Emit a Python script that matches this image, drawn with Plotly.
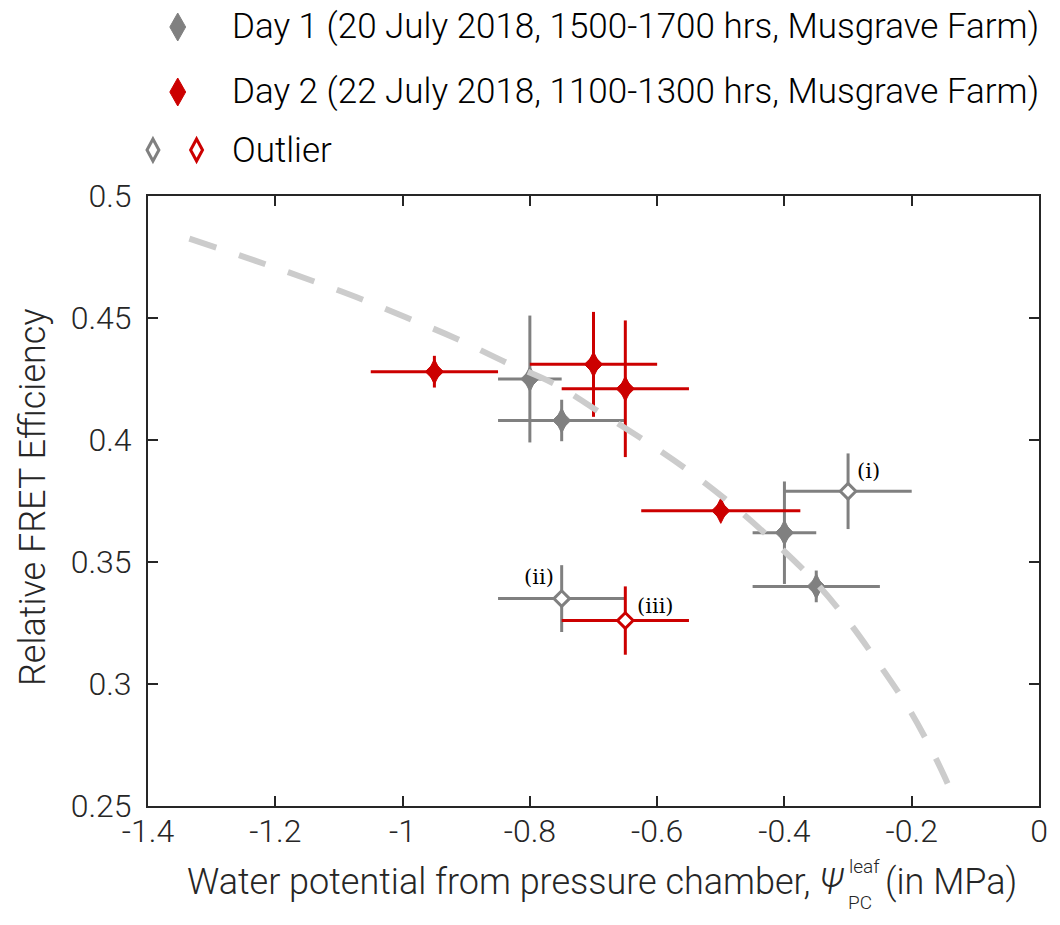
import plotly.graph_objects as go

# ---- data -------------------------------------------------------------
# Day 1: 20 July 2018, 1500-1700 hrs
day1_x = [-0.80, -0.75, -0.40, -0.35]
day1_y = [0.425, 0.408, 0.362, 0.340]
day1_xerr = [0.05, 0.10, 0.05, 0.10]
day1_yerr = [0.026, 0.0085, 0.021, 0.0065]

# Day 2: 22 July 2018, 1100-1300 hrs
day2_x = [-0.95, -0.70, -0.65, -0.50]
day2_y = [0.428, 0.431, 0.421, 0.371]
day2_xerr = [0.10, 0.10, 0.10, 0.125]
day2_yerr = [0.0065, 0.0215, 0.028, 0.004]

# Outliers
out1_x = [-0.30, -0.75]
out1_y = [0.379, 0.335]
out1_xerr = [0.10, 0.10]
out1_yerr = [0.0155, 0.0137]
out1_labels = ["(i)", "(ii)"]

out2_x = [-0.65]
out2_y = [0.326]
out2_xerr = [0.10]
out2_yerr = [0.014]
out2_labels = ["(iii)"]

# Trend curve
fit_x = [-1.335, -1.234, -1.153, -1.073, -0.994, -0.916, -0.839, -0.762,
         -0.689, -0.617, -0.546, -0.479, -0.415, -0.353, -0.299, -0.249,
         -0.202, -0.161, -0.132]
fit_y = [0.4825, 0.4737, 0.4663, 0.4586, 0.4502, 0.4416, 0.4320, 0.4231,
         0.4112, 0.3993, 0.3865, 0.3728, 0.3580, 0.3422, 0.3255, 0.3073,
         0.2888, 0.2689, 0.2525]

x_ticks = [-1.4, -1.2, -1.0, -0.8, -0.6, -0.4, -0.2, 0.0]
x_tick_text = ["-1.4", "-1.2", "-1", "-0.8", "-0.6", "-0.4", "-0.2", "0"]
y_ticks = [0.25, 0.30, 0.35, 0.40, 0.45, 0.50]
y_tick_text = ["0.25", "0.3", "0.35", "0.4", "0.45", "0.5"]

legend_labels = [
    "Day 1 (20 July 2018, 1500-1700 hrs, Musgrave Farm)",
    "Day 2 (22 July 2018, 1100-1300 hrs, Musgrave Farm)",
    "Outlier",
]

# ---- styling ----------------------------------------------------------
GRAY = "#808080"
RED = "#cc0000"
FIT = "#cccccc"
AXIS = "#262626"
FONT = "Roboto"

W, H = 1060, 925
ML, MR, MT, MB = 148, 13, 196, 119
PW, PH = W - ML - MR, H - MT - MB


def px(x):
    return (x - ML) / PW


def py(y):
    return (H - MB - y) / PH


def err(vals, color):
    return dict(type="data", array=vals, visible=True, color=color,
                thickness=3, width=0)


def diamond_path(cx, cy, hw, hh):
    pts = [(cx, cy - hh), (cx + hw, cy), (cx, cy + hh), (cx - hw, cy)]
    return "M" + "L".join(f"{px(a):.5f},{py(b):.5f}" for a, b in pts) + "Z"


def filled_series(fig, xs, ys, xerr, yerr, color):
    # error bars plus a wide diamond body
    fig.add_trace(go.Scatter(
        x=xs, y=ys, mode="markers",
        error_x=err(xerr, color), error_y=err(yerr, color),
        marker=dict(symbol="diamond", size=14, color=color,
                    line=dict(color=color, width=1)),
        showlegend=False))
    # tall diamond on top gives the elongated tips
    fig.add_trace(go.Scatter(
        x=xs, y=ys, mode="markers",
        marker=dict(symbol="diamond-tall", size=18, color=color,
                    line=dict(color=color, width=1)),
        showlegend=False))


def open_series(fig, xs, ys, xerr, yerr, color):
    fig.add_trace(go.Scatter(
        x=xs, y=ys, mode="markers",
        error_x=err(xerr, color), error_y=err(yerr, color),
        marker=dict(symbol="diamond", size=12, color="white",
                    line=dict(color=color, width=3)),
        showlegend=False))


fig = go.Figure()
filled_series(fig, day1_x, day1_y, day1_xerr, day1_yerr, GRAY)
open_series(fig, out1_x, out1_y, out1_xerr, out1_yerr, GRAY)
filled_series(fig, day2_x, day2_y, day2_xerr, day2_yerr, RED)
open_series(fig, out2_x, out2_y, out2_xerr, out2_yerr, RED)

fig.add_trace(go.Scatter(
    x=fit_x, y=fit_y, mode="lines", line_shape="spline",
    line=dict(color=FIT, width=6, dash="28px,24px"),
    showlegend=False))

# Legend swatches (drawn above the axes as paper-space shapes)
shapes = [
    dict(type="path", xref="paper", yref="paper",
         path=diamond_path(178, 27, 8, 14),
         fillcolor=GRAY, line=dict(color=GRAY, width=1)),
    dict(type="path", xref="paper", yref="paper",
         path=diamond_path(178, 92, 8, 14),
         fillcolor=RED, line=dict(color=RED, width=1)),
    dict(type="path", xref="paper", yref="paper",
         path=diamond_path(153, 150, 6, 11),
         fillcolor="white", line=dict(color=GRAY, width=3)),
    dict(type="path", xref="paper", yref="paper",
         path=diamond_path(197, 150, 6, 11),
         fillcolor="white", line=dict(color=RED, width=3)),
]

annotations = []
for lab, yy in zip(legend_labels, [27, 92, 150]):
    annotations.append(dict(
        text=lab, xref="paper", yref="paper", x=px(231), y=py(yy),
        xanchor="left", yanchor="middle", showarrow=False,
        font=dict(family=FONT, size=35, color="black", weight=300)))

# Point labels for outliers
for xx, yy, lab, dx, dy in [
        (out1_x[0], out1_y[0], out1_labels[0], 20, 20),
        (out1_x[1], out1_y[1], out1_labels[1], -23, 22),
        (out2_x[0], out2_y[0], out2_labels[0], 30, 15)]:
    annotations.append(dict(
        text=lab, x=xx, y=yy, xref="x", yref="y", showarrow=False,
        xshift=dx, yshift=dy, xanchor="center", yanchor="middle",
        font=dict(family="DejaVu Serif", size=21, color="black")))

# Axis titles
annotations.append(dict(
    text="Relative FRET Efficiency", xref="paper", yref="paper",
    x=px(32), y=py(497), textangle=-90, showarrow=False,
    xanchor="center", yanchor="middle",
    font=dict(family=FONT, size=36, color=AXIS, weight=300)))
annotations.append(dict(
    text="Water potential from pressure chamber, <i>Ψ</i>",
    xref="paper", yref="paper", x=px(852), y=py(882), showarrow=False,
    xanchor="right", yanchor="middle",
    font=dict(family=FONT, size=36, color=AXIS, weight=300)))
annotations.append(dict(
    text="leaf", xref="paper", yref="paper", x=px(853), y=py(866),
    showarrow=False, xanchor="left", yanchor="middle",
    font=dict(family=FONT, size=19, color=AXIS, weight=300)))
annotations.append(dict(
    text="PC", xref="paper", yref="paper", x=px(852), y=py(902),
    showarrow=False, xanchor="left", yanchor="middle",
    font=dict(family=FONT, size=19, color=AXIS, weight=300)))
annotations.append(dict(
    text="(in MPa)", xref="paper", yref="paper", x=px(890), y=py(882),
    showarrow=False, xanchor="left", yanchor="middle",
    font=dict(family=FONT, size=36, color=AXIS, weight=300)))

axis_common = dict(
    showgrid=False, zeroline=False, showline=True, linecolor=AXIS,
    linewidth=2, mirror="ticks", ticks="inside", ticklen=10, tickwidth=1.5,
    tickcolor=AXIS,
    tickfont=dict(family=FONT, size=32, color=AXIS, weight=300))

fig.update_layout(
    width=W, height=H,
    margin=dict(l=ML, r=MR, t=MT, b=MB),
    paper_bgcolor="white", plot_bgcolor="white",
    xaxis=dict(range=[-1.4, 0], tickvals=x_ticks, ticktext=x_tick_text,
               ticklabelstandoff=-4, **axis_common),
    yaxis=dict(range=[0.25, 0.5], tickvals=y_ticks, ticktext=y_tick_text,
               ticklabelstandoff=8, **axis_common),
    shapes=shapes,
    annotations=annotations,
)

fig.write_html("out.html")
